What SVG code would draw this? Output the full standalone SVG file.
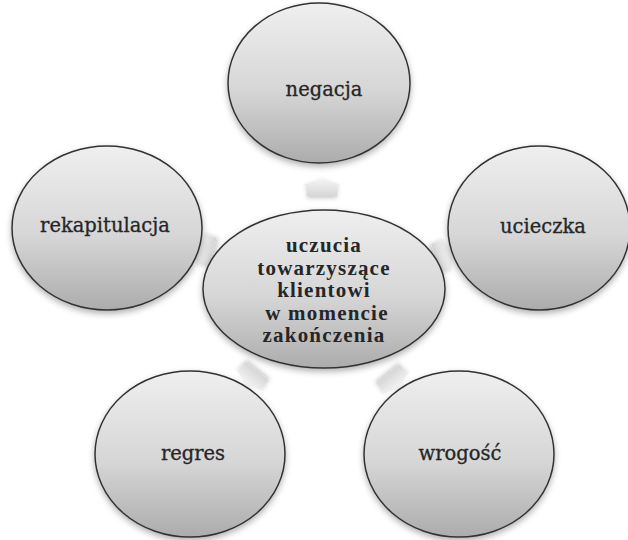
<svg xmlns="http://www.w3.org/2000/svg" width="628" height="540" viewBox="0 0 628 540">
  <defs>
    <linearGradient id="gCircle" x1="0" y1="0" x2="0" y2="1">
      <stop offset="0" stop-color="#efeff0"/>
      <stop offset="0.55" stop-color="#d6d6d7"/>
      <stop offset="1" stop-color="#acacad"/>
    </linearGradient>
    <linearGradient id="gArrow" x1="0" y1="0" x2="0" y2="1">
      <stop offset="0" stop-color="#f6f6f6"/>
      <stop offset="1" stop-color="#d6d6d6"/>
    </linearGradient>
    <filter id="shadow" x="-20%" y="-20%" width="140%" height="150%">
      <feDropShadow dx="0" dy="3" stdDeviation="3" flood-color="#000" flood-opacity="0.3"/>
    </filter>
    <filter id="ashadow" x="-50%" y="-50%" width="200%" height="200%">
      <feDropShadow dx="0" dy="2" stdDeviation="2" flood-color="#000" flood-opacity="0.22"/>
    </filter>
    <polygon id="arrow" points="0,-10 19,-3 15,-3 15,8 -15,8 -15,-3 -19,-3"/>
  </defs>
  <style>
    .node ellipse { fill: url(#gCircle); stroke: #333; stroke-width: 1.5; filter: url(#shadow); }
    .lbl { font-family: "DejaVu Serif", "Liberation Serif", serif; font-size: 19.5px; fill: #262626; stroke: #262626; stroke-width: 0.3px; text-anchor: middle; }
    .ctr { font-family: "Liberation Serif", "DejaVu Serif", serif; font-size: 21px; font-weight: bold; fill: #262626; text-anchor: middle; letter-spacing: 1.2px; }
    .conn use { fill: url(#gArrow); filter: url(#ashadow); }
  </style>
  <rect width="628" height="540" fill="#ffffff"/>

  <g id="connectors" class="conn">
    <use href="#arrow" transform="translate(322,188)"/>
    <use href="#arrow" transform="translate(443,256) rotate(74)"/>
    <use href="#arrow" transform="translate(393,380) rotate(140.7)"/>
    <use href="#arrow" transform="translate(252,377) rotate(-140.9)"/>
    <use href="#arrow" transform="translate(205,250) rotate(-74.3)"/>
  </g>

  <g id="node-negacja" class="node">
    <ellipse cx="319" cy="83" rx="91" ry="80"/>
    <text class="lbl" x="324" y="96">negacja</text>
  </g>
  <g id="node-ucieczka" class="node">
    <ellipse cx="539" cy="228" rx="91" ry="82"/>
    <text class="lbl" x="543" y="233">ucieczka</text>
  </g>
  <g id="node-wrogosc" class="node">
    <ellipse cx="459" cy="454" rx="95" ry="83"/>
    <text class="lbl" x="460" y="460">wrogość</text>
  </g>
  <g id="node-regres" class="node">
    <ellipse cx="190" cy="454" rx="95" ry="83"/>
    <text class="lbl" x="193" y="460">regres</text>
  </g>
  <g id="node-rekapitulacja" class="node">
    <ellipse cx="107" cy="228" rx="95" ry="82"/>
    <text class="lbl" x="105" y="232">rekapitulacja</text>
  </g>
  <g id="node-center" class="node">
    <ellipse cx="324" cy="289" rx="121" ry="79"/>
    <text class="ctr" x="324" y="252">uczucia</text>
    <text class="ctr" x="324" y="274.5">towarzyszące</text>
    <text class="ctr" x="324" y="297">klientowi</text>
    <text class="ctr" x="327" y="319.5">w momencie</text>
    <text class="ctr" x="324" y="342">zakończenia</text>
  </g>
</svg>
